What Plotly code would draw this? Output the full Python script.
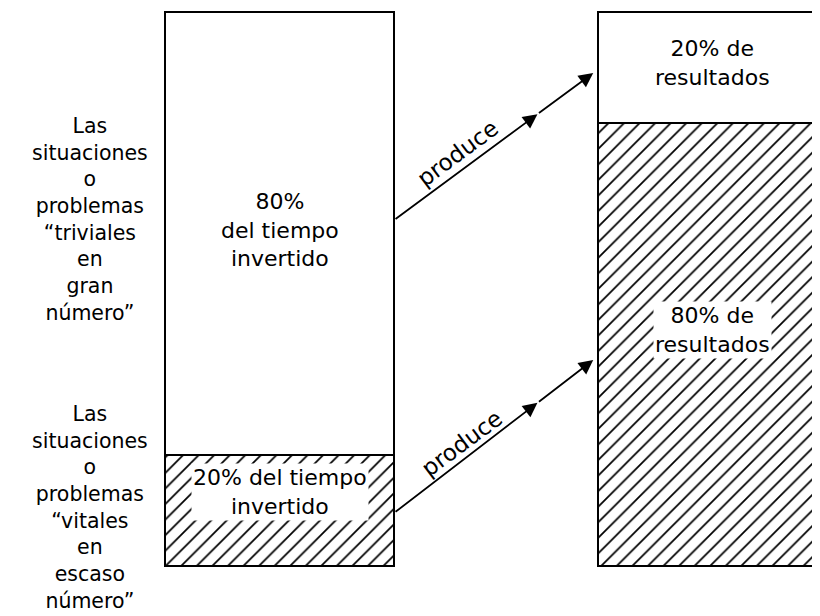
import plotly.graph_objects as go

# ---- data ----
bar_names = ["Tiempo invertido", "Resultados"]
bar_x = [0, 1]
vitales = [20, 80]      # hatched (bottom) segments, %
triviales = [80, 20]    # white (top) segments, %

label_triviales = ["Las", "situaciones", "o", "problemas", "“triviales", "en", "gran", "número”"]
label_vitales = ["Las", "situaciones", "o", "problemas", "“vitales", "en", "escaso", "número”"]

text_time_top = ["80%", "del tiempo", "invertido"]
text_time_bottom = ["20% del tiempo", "invertido"]
text_res_top = ["20% de", "resultados"]
text_res_bottom = ["80% de", "resultados"]
arrow_word = "produce"

# ---- layout constants ----
BAR_W = 0.529
FONT = "DejaVu Sans"

fig = go.Figure()
fig.add_trace(go.Bar(
    x=bar_x, y=vitales, width=BAR_W, name="vitales",
    marker=dict(color="white", line=dict(color="black", width=2.5),
                pattern=dict(shape="/", fgcolor="black", bgcolor="white",
                             fgopacity=1, fillmode="replace",
                             size=11, solidity=0.16)),
    hoverinfo="skip"))
fig.add_trace(go.Bar(
    x=bar_x, y=triviales, width=BAR_W, name="triviales",
    marker=dict(color="white", line=dict(color="black", width=2.5)),
    hoverinfo="skip"))

ann = []

def txt(x, y, lines, size, bg=None, yshift=0):
    d = dict(x=x, y=y, xref="x", yref="y", text="<br>".join(lines),
             showarrow=False, font=dict(family=FONT, size=size, color="black"),
             align="center", yshift=yshift, borderpad=1)
    if bg:
        d["bgcolor"] = bg
    ann.append(d)

# left side labels
txt(-0.4376, 62.5, label_triviales, 20.5)
txt(-0.4376, 10.6, label_vitales, 20.5)

# labels inside bars (at segment centres)
txt(bar_x[0], vitales[0] + triviales[0] / 2, text_time_top, 22, yshift=4)
txt(bar_x[0], vitales[0] / 2, text_time_bottom, 22, bg="white", yshift=19)
txt(bar_x[1], vitales[1] + triviales[1] / 2, text_res_top, 22, yshift=4)
txt(bar_x[1], vitales[1] / 2, text_res_bottom, 22, bg="white", yshift=14)

# arrows "produce"
x_start = bar_x[0] + BAR_W / 2
x_end = bar_x[1] - BAR_W / 2 - 0.011
arrows = [
    dict(y0=62.45, y1=88.99, tx=0.412, ty=74.5),
    dict(y0=9.57, y1=37.18, tx=0.4215, ty=22.2),
]
for a in arrows:
    f = 0.72
    xm = x_start + f * (x_end - x_start)
    ym = a["y0"] + f * (a["y1"] - a["y0"])
    for (xa, ya, xb, yb) in [(x_start, a["y0"], xm, ym), (xm, ym, x_end, a["y1"])]:
        ann.append(dict(x=xb, y=yb, ax=xa, ay=ya, xref="x", yref="y",
                        axref="x", ayref="y", text="", showarrow=True,
                        arrowhead=2, arrowsize=1.6, arrowwidth=1.8,
                        arrowcolor="black", standoff=0, startstandoff=0))
    ann.append(dict(x=a["tx"], y=a["ty"], xref="x", yref="y", text=arrow_word,
                    showarrow=False, textangle=-36.5,
                    font=dict(family=FONT, size=23, color="black")))

fig.update_layout(
    width=820, height=616, margin=dict(l=0, r=0, t=0, b=0),
    barmode="stack", showlegend=False, bargap=0,
    plot_bgcolor="white", paper_bgcolor="white",
    xaxis=dict(range=[-0.627, 1.2667], visible=False, fixedrange=True),
    yaxis=dict(range=[-10.47, 100.72], visible=False, fixedrange=True),
    annotations=ann,
)
fig.write_html("out.html")
